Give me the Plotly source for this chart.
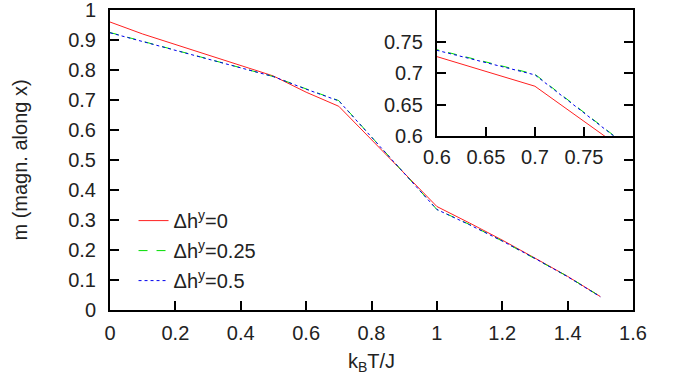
import plotly.graph_objects as go

x_red = [0.0, 0.1, 0.5, 0.6, 0.7, 1.0, 1.1, 1.2, 1.3, 1.4, 1.5]
m_red = [0.960, 0.920, 0.780, 0.726, 0.679, 0.345, 0.290, 0.233, 0.173, 0.112, 0.045]

x_green = [0.0, 0.5, 0.6, 0.7, 1.0, 1.1, 1.2, 1.3, 1.4, 1.5]
m_green = [0.925, 0.778, 0.737, 0.698, 0.335, 0.285, 0.230, 0.172, 0.112, 0.045]

x_blue = [0.0, 0.5, 0.6, 0.7, 1.0, 1.1, 1.2, 1.3, 1.4, 1.5]
m_blue = [0.924, 0.778, 0.736, 0.697, 0.335, 0.284, 0.230, 0.172, 0.111, 0.044]

names = ["Δh<sup>y</sup>=0", "Δh<sup>y</sup>=0.25", "Δh<sup>y</sup>=0.5"]
colors = ["#ff2020", "#00dd00", "#0000ee"]
dashes = ["solid", "dash", "dot"]

main_xticks = [0, 0.2, 0.4, 0.6, 0.8, 1.0, 1.2, 1.4, 1.6]
main_yticks = [0, 0.1, 0.2, 0.3, 0.4, 0.5, 0.6, 0.7, 0.8, 0.9, 1.0]
inset_xticks = [0.6, 0.65, 0.7, 0.75]
inset_yticks = [0.6, 0.65, 0.7, 0.75]

series = [(x_red, m_red), (x_green, m_green), (x_blue, m_blue)]

fig = go.Figure()
for i, ((xs, ys), n, c, d) in enumerate(zip(series, names, colors, dashes)):
    fig.add_trace(go.Scatter(x=xs, y=ys, mode="lines", name=n, legendgroup=f"g{i}",
                             line=dict(color=c, width=1, dash=d),
                             xaxis="x", yaxis="y"))
for (xs, ys), n, c, d in zip(series, names, colors, dashes):
    fig.add_trace(go.Scatter(x=xs, y=ys, mode="lines", name=n, showlegend=False,
                             line=dict(color=c, width=1, dash=d),
                             xaxis="x2", yaxis="y2"))

font = dict(family="Liberation Sans, Arial, sans-serif", size=20, color="#222")
axis_common = dict(showgrid=False, zeroline=False, showline=True, linecolor="black",
                   linewidth=2, ticks="inside", ticklen=9, tickwidth=2,
                   tickcolor="black", tickfont=font, automargin=False,
                   ticklabeloverflow="allow")

fig.update_layout(
    width=676, height=381,
    margin=dict(l=110, r=43, t=10, b=71),
    paper_bgcolor="white", plot_bgcolor="white",
    font=font,
    showlegend=True,
    legend=dict(x=0.045, y=0.363, xanchor="left", yanchor="top",
                bgcolor="rgba(0,0,0,0)", font=font, tracegroupgap=1,
                itemwidth=30),
    xaxis=dict(domain=[0, 1], range=[0, 1.6], tickvals=main_xticks,
               mirror=True, ticklabelstandoff=4,
               title=dict(text="k<sub>B</sub>T/J", font=font, standoff=11),
               **axis_common),
    yaxis=dict(domain=[0, 1], range=[0, 1.0], tickvals=main_yticks,
               mirror="ticks", ticklabelstandoff=8,
               title=dict(text="m (magn. along x)", font=font, standoff=35),
               **axis_common),
    xaxis2=dict(domain=[0.625, 1], range=[0.6, 0.8], tickvals=inset_xticks,
                anchor="y2", mirror=True, ticklabelstandoff=2, **axis_common),
    yaxis2=dict(domain=[0.58, 1], range=[0.6, 0.8], tickvals=inset_yticks,
                anchor="x2", mirror="ticks", ticklabelstandoff=8, **axis_common),
)

fig.write_html("out.html", config={"displayModeBar": False},
               post_script="document.body.style.margin='0';")
